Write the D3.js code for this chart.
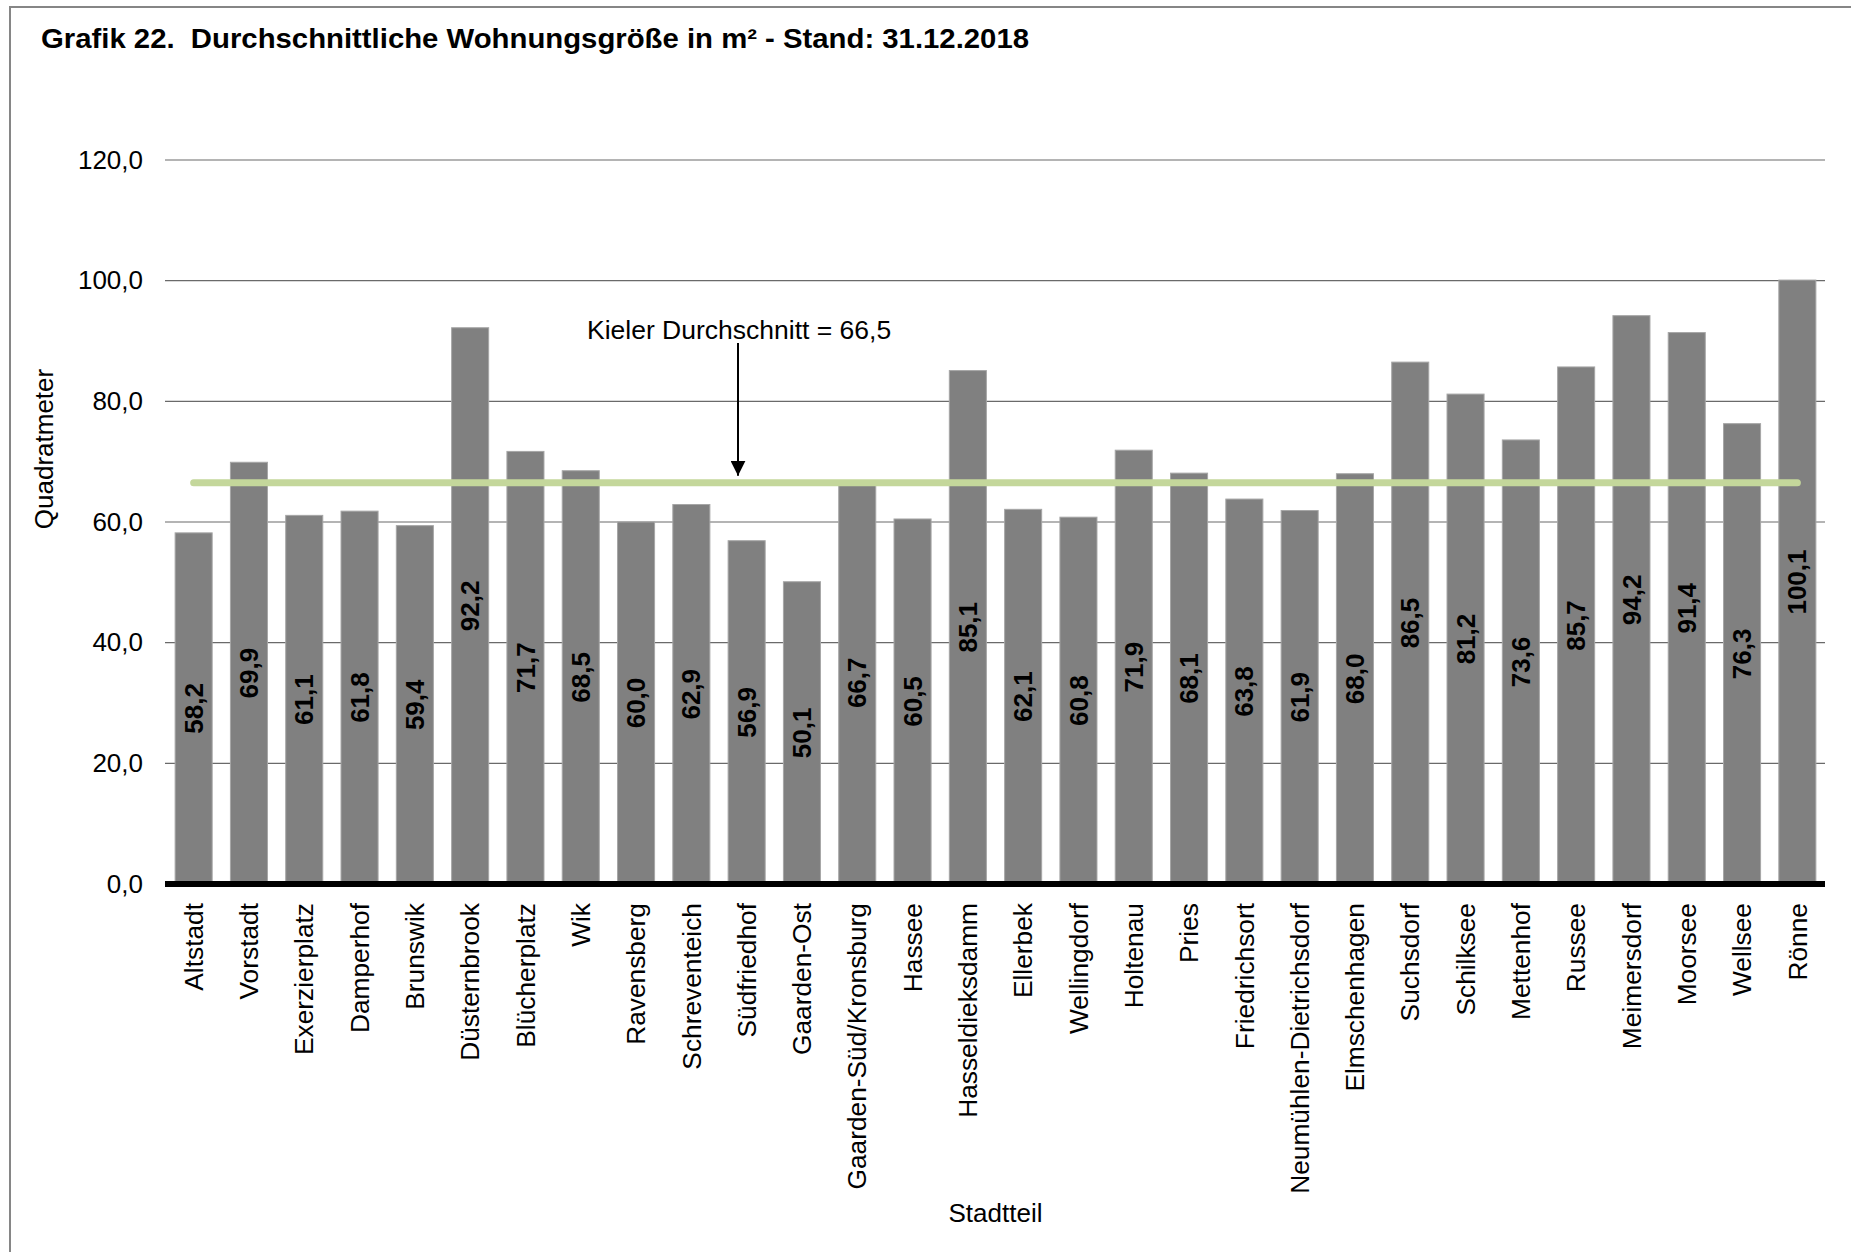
<!DOCTYPE html>
<html>
<head>
<meta charset="utf-8">
<script src="https://cdn.jsdelivr.net/npm/d3@7"></script>
<style>
  html, body { margin: 0; padding: 0; background: #fff; }
  svg { display: block; font-family: "Liberation Sans", Arial, sans-serif; }
</style>
</head>
<body>
<svg id="chart" width="1851" height="1252"></svg>
<script>
// ---- Data ----
const categories = ["Altstadt","Vorstadt","Exerzierplatz","Damperhof","Brunswik","Düsternbrook","Blücherplatz","Wik","Ravensberg","Schreventeich","Südfriedhof","Gaarden-Ost","Gaarden-Süd/Kronsburg","Hassee","Hasseldieksdamm","Ellerbek","Wellingdorf","Holtenau","Pries","Friedrichsort","Neumühlen-Dietrichsdorf","Elmschenhagen","Suchsdorf","Schilksee","Mettenhof","Russee","Meimersdorf","Moorsee","Wellsee","Rönne"];
const values = [58.2,69.9,61.1,61.8,59.4,92.2,71.7,68.5,60.0,62.9,56.9,50.1,66.7,60.5,85.1,62.1,60.8,71.9,68.1,63.8,61.9,68.0,86.5,81.2,73.6,85.7,94.2,91.4,76.3,100.1];
const average = 66.5;
const yTicks = [0,20,40,60,80,100,120];
const titleText = "Grafik 22.  Durchschnittliche Wohnungsgröße in m² - Stand: 31.12.2018";
const yTitle = "Quadratmeter";
const xTitle = "Stadtteil";
const avgLabel = "Kieler Durchschnitt = 66,5";

// ---- Layout ----
const svg = d3.select("#chart");
const plot = { left: 166, right: 1825, top: 160, bottom: 884 };
const x = d3.scaleBand().domain(categories).range([plot.left, plot.right]).paddingInner(0.33).paddingOuter(0.165);
const y = d3.scaleLinear().domain([0, 120]).range([plot.bottom, plot.top]);
const fmt = v => d3.format(".1f")(v).replace(".", ",");

// frame
svg.append("path")
  .attr("d", `M10,1252 L10,7 L1851,7`)
  .attr("fill", "none").attr("stroke", "#868686").attr("stroke-width", 2);

// title
svg.append("text").attr("x", 41).attr("y", 48)
  .attr("font-size", 28).attr("font-weight", "bold").attr("fill", "#000")
  .style("white-space", "pre")
  .attr("textLength", 988).attr("lengthAdjust", "spacingAndGlyphs")
  .text(titleText);

// gridlines
svg.append("g").selectAll("line").data(yTicks.filter(d => d > 0)).join("line")
  .attr("x1", 165).attr("x2", plot.right)
  .attr("y1", d => y(d)).attr("y2", d => y(d))
  .attr("stroke", "#6a6a6a").attr("stroke-width", 1.2);

// y tick labels
const yAxis = d3.axisLeft(y).tickValues(yTicks).tickFormat(fmt).tickSize(0).tickPadding(0);
const gy = svg.append("g").attr("transform", "translate(143,0)").call(yAxis);
gy.select(".domain").remove();
gy.selectAll("text").attr("font-size", 26).attr("fill", "#000").attr("font-family", "Liberation Sans, Arial, sans-serif");

// bars
svg.append("g").selectAll("rect").data(values).join("rect")
  .attr("x", (d, i) => x(categories[i]))
  .attr("width", x.bandwidth())
  .attr("y", d => y(d))
  .attr("height", d => y(0) - y(d))
  .attr("fill", "#808080")
  .attr("stroke", "#a6a6a6").attr("stroke-width", 1);

// average line
svg.append("line")
  .attr("x1", x(categories[0]) + x.bandwidth() / 2)
  .attr("x2", x(categories[categories.length - 1]) + x.bandwidth() / 2)
  .attr("y1", y(average)).attr("y2", y(average))
  .attr("stroke", "#c4d79b").attr("stroke-width", 7).attr("stroke-linecap", "round");

// baseline
svg.append("line").attr("x1", 165).attr("x2", plot.right)
  .attr("y1", y(0)).attr("y2", y(0))
  .attr("stroke", "#000").attr("stroke-width", 6);

// data labels
svg.append("g").selectAll("text").data(values).join("text")
  .attr("transform", (d, i) => `translate(${x(categories[i]) + x.bandwidth() / 2},${y(d / 2)}) rotate(-90)`)
  .attr("text-anchor", "middle").attr("dy", "0.35em")
  .attr("font-size", 26).attr("font-weight", "bold").attr("fill", "#000")
  .text(d => fmt(d));

// category labels
const xAxis = d3.axisBottom(x).tickSize(0).tickPadding(0);
const gx = svg.append("g").attr("transform", `translate(0,${plot.bottom})`).call(xAxis);
gx.select(".domain").remove();
gx.selectAll("text")
  .attr("font-size", 26.3).attr("fill", "#000").attr("font-family", "Liberation Sans, Arial, sans-serif")
  .attr("text-anchor", "end")
  .attr("transform", "translate(0,19) rotate(-90)")
  .attr("x", 0).attr("y", 0).attr("dy", "0.35em");

// axis titles
svg.append("text").attr("transform", "translate(44,449) rotate(-90)")
  .attr("text-anchor", "middle").attr("dy", "0.35em")
  .attr("font-size", 26).attr("fill", "#000").text(yTitle);
svg.append("text").attr("x", (plot.left + plot.right) / 2).attr("y", 1222)
  .attr("text-anchor", "middle").attr("font-size", 26).attr("fill", "#000").text(xTitle);

// annotation
const arrowX = 738;
svg.append("defs").append("marker").attr("id", "arrow")
  .attr("viewBox", "0 0 10 10").attr("refX", 10).attr("refY", 5)
  .attr("markerWidth", 7.5).attr("markerHeight", 7.5).attr("markerUnits", "strokeWidth")
  .attr("orient", "auto")
  .append("path").attr("d", "M0,0 L10,5 L0,10 Z").attr("fill", "#000");
svg.append("line").attr("x1", arrowX).attr("x2", arrowX)
  .attr("y1", 343).attr("y2", y(average) - 7)
  .attr("stroke", "#000").attr("stroke-width", 2).attr("marker-end", "url(#arrow)");
svg.append("text").attr("x", 587).attr("y", 339)
  .attr("font-size", 26.5).attr("fill", "#000").text(avgLabel);
</script>
</body>
</html>
